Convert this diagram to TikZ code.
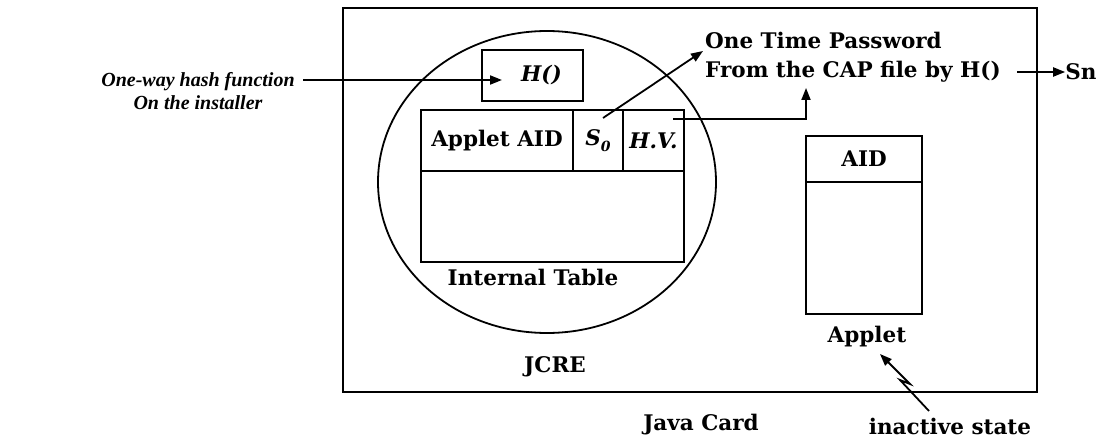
\documentclass[tikz,border=0pt]{standalone}
\usepackage{fontspec}
\setmainfont{DejaVu Serif}
\newfontfamily\notefont{Liberation Serif}
\usetikzlibrary{arrows.meta, positioning, shapes.geometric, calc}

\begin{document}
\begin{tikzpicture}[x=1pt, y=-1pt,
        font=\bfseries\fontsize{21.5}{29}\selectfont,
        frame/.style    = {rectangle, draw, line width=2.6pt, minimum width=694pt, minimum height=384pt, inner sep=0pt},
        runtime/.style  = {ellipse, draw, line width=1.8pt, minimum width=338pt, minimum height=302pt, inner sep=0pt},
        cell/.style     = {rectangle, draw, line width=2pt, inner sep=0pt, anchor=north west},
        caption/.style  = {inner sep=0pt},
        note/.style     = {inner sep=0pt, font=\notefont\bfseries\itshape\fontsize{20}{23}\selectfont, align=center},
        flow/.style     = {draw, line width=1.8pt, -{Triangle[length=12pt, width=9pt]}}
    ]

    \useasboundingbox (0,0) rectangle (1103,441);

    % --- JAVA CARD / JCRE ---
    \node[frame] (card) at (690,200) {};
    \node[runtime] (jcre) at (547,182) {};
    \node[caption] (jcrelbl) at (555,367) {JCRE};
    \node[caption] (cardlbl) at (701,425) {Java Card};

    % --- HASH FUNCTION ---
    \node[cell, minimum width=101pt, minimum height=51pt] (hfunc) at (481,49) {\hspace*{18pt}\itshape H()};
    \node[note] (hashtxt) at (198,91) {One-way hash function\\On the installer};

    % --- INTERNAL TABLE ---
    \node[cell, minimum width=152pt, minimum height=61pt] (aidcell) at (420,109) {Applet AID};
    \node[cell, minimum width=50pt,  minimum height=61pt] (s0cell)  at (572,109) {\itshape S\raisebox{-0.5ex}{\fontsize{14}{14}\selectfont 0}};
    \node[cell, minimum width=61pt,  minimum height=61pt] (hvcell)  at (622,109) {\itshape H.V.};
    \node[cell, minimum width=263pt, minimum height=91pt] (tblbody) at (420,170) {};
    \node[caption] (tbllbl) at (533,277) {Internal Table};

    % --- APPLET ---
    \node[cell, minimum width=116pt, minimum height=46pt]  (appaid)  at (805,135) {AID};
    \node[cell, minimum width=116pt, minimum height=132pt] (appbody) at (805,181) {};
    \node[caption] (applbl) at (867,337) {Applet};
    \node[caption] (inactlbl) at (950,426) {inactive state};

    % --- OTP / Sn ---
    \node[caption, anchor=west, align=left] (otp) at (705,57) {One Time Password\\From the CAP file by H()};
    \node[caption] (sn) at (1081,72) {Sn};

    % --- ARROWS ---
    \coordinate (hstart) at (303,80);
    \coordinate (hend)   at (502,80);
    \draw[flow] (hstart) -- (hend);

    \coordinate (s0start) at (603,118);
    \coordinate (otptip)  at (703,51);
    \draw[flow] (s0start) -- (otptip);

    \coordinate (hvstart) at (673,119);
    \coordinate (captip)  at (806,88);
    \draw[flow] (hvstart) -| (captip);

    \coordinate (snstart) at (1017,72);
    \draw[flow] (snstart) -- (sn.west);

    \coordinate (zz0) at (929,411);
    \coordinate (zz1) at (900,380);
    \coordinate (zz2) at (910,384);
    \coordinate (zz3) at (880,354);
    \draw[flow] (zz0) -- (zz1) -- (zz2) -- (zz3);

\end{tikzpicture}
\end{document}
